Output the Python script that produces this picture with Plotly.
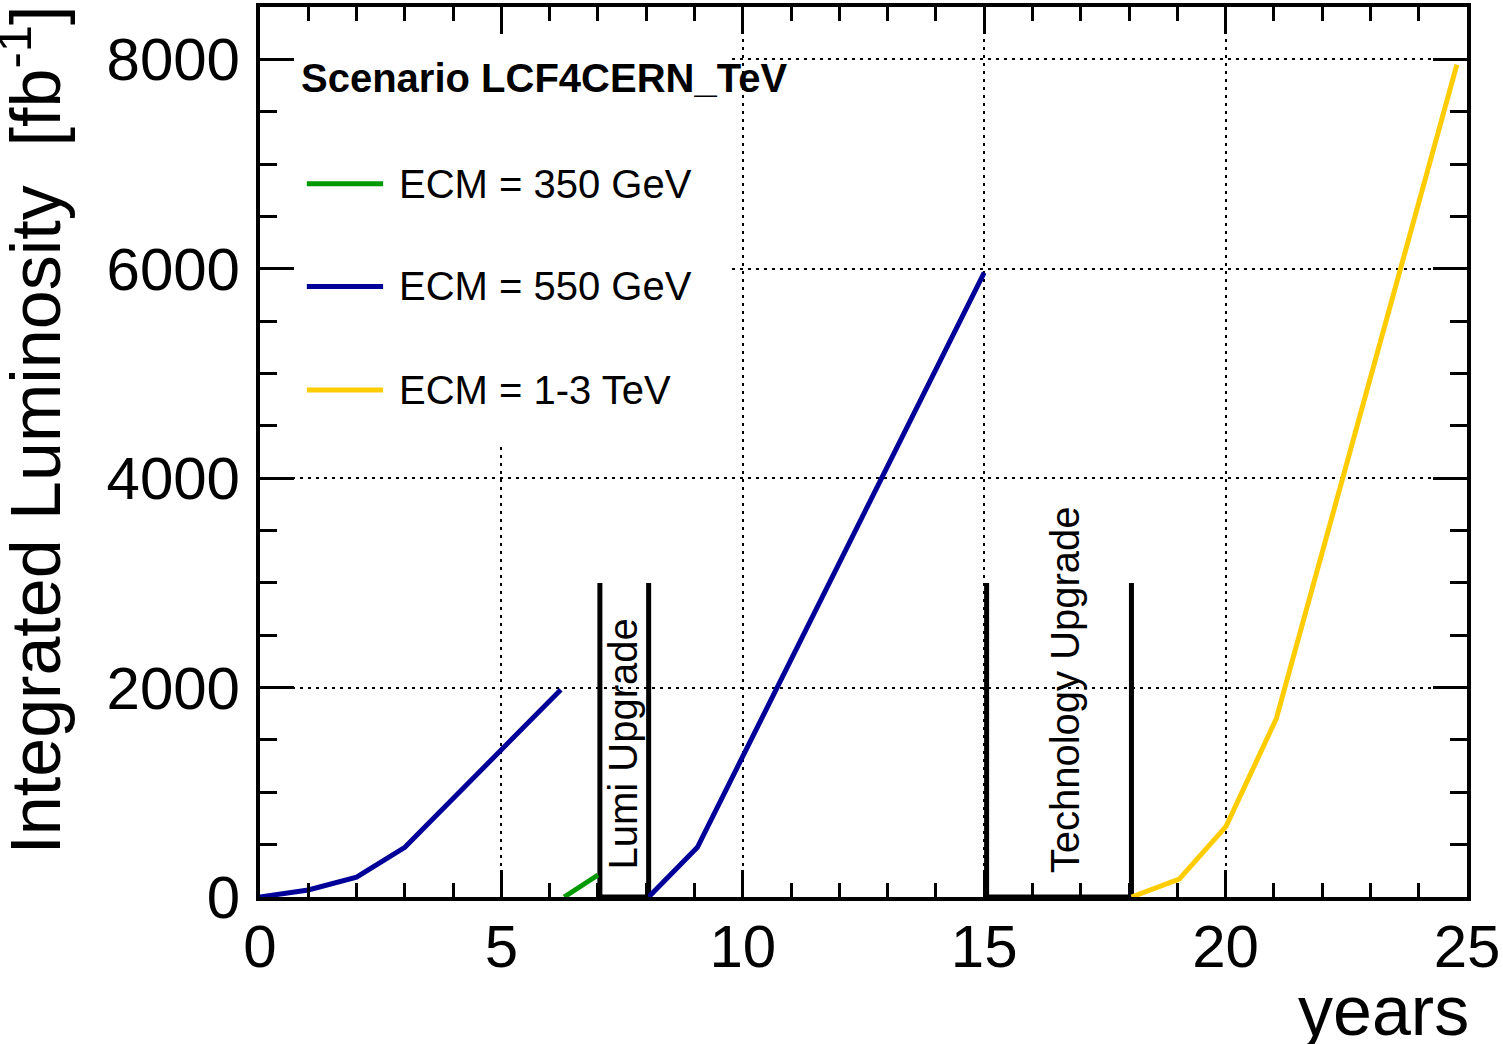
import plotly.graph_objects as go

# ---- data ----
years_550a = [0, 1, 2, 3, 6.23]
lumi_550a = [0, 67, 190, 475, 1980]

years_350 = [6.3, 7.0]
lumi_350 = [0, 210]

years_550b = [8.05, 9.06, 15.0]
lumi_550b = [0, 475, 5964]

years_tev = [18.05, 19.04, 20.01, 21.05, 24.79]
lumi_tev = [0, 171, 675, 1703, 7950]

upgrade_names = ["Lumi Upgrade", "Technology Upgrade"]
upgrade_start = [7.04, 15.05]
upgrade_end = [8.05, 18.05]
upgrade_height = 3000

legend_labels = ["ECM = 350 GeV", "ECM = 550 GeV", "ECM = 1-3 TeV"]
colors = ["#009900", "#000099", "#FFCC00"]
header = "<b>Scenario LCF4CERN_TeV</b>"

FONT = "Liberation Sans, Arial, Helvetica, sans-serif"

fig = go.Figure()

# upgrade boxes (open at top)
for s, e in zip(upgrade_start, upgrade_end):
    fig.add_trace(go.Scatter(x=[s, s, e, e], y=[upgrade_height, 0, 0, upgrade_height],
                             mode="lines", line=dict(color="black", width=5),
                             showlegend=False, hoverinfo="skip"))

fig.add_trace(go.Scatter(x=years_550a, y=lumi_550a, mode="lines",
                         line=dict(color=colors[1], width=5), showlegend=False))
fig.add_trace(go.Scatter(x=years_350, y=lumi_350, mode="lines",
                         line=dict(color=colors[0], width=5), showlegend=False))
fig.add_trace(go.Scatter(x=years_550b, y=lumi_550b, mode="lines",
                         line=dict(color=colors[1], width=5), showlegend=False))
fig.add_trace(go.Scatter(x=years_tev, y=lumi_tev, mode="lines",
                         line=dict(color=colors[2], width=5), showlegend=False))

# white mask behind legend region (hides grid lines)
fig.add_shape(type="rect", xref="x", yref="y", x0=0, x1=9.73, y0=4318, y1=8500,
              fillcolor="white", line=dict(width=0), layer="between")

# manual legend
fig.add_annotation(x=0.8, y=7820, xref="x", yref="y", text=header, showarrow=False,
                   xanchor="left", yanchor="middle", font=dict(family=FONT, size=40, color="black"))
key_y = [6811, 5831, 4842]
for lab, col, ky in zip(legend_labels, colors, key_y):
    fig.add_shape(type="line", xref="x", yref="y", x0=0.97, x1=2.55, y0=ky, y1=ky,
                  line=dict(color=col, width=5))
    fig.add_annotation(x=2.84, y=ky, xref="x", yref="y", text=lab, showarrow=False,
                       xanchor="left", yanchor="middle",
                       font=dict(family=FONT, size=40, color="black"))

# upgrade labels
label_x = [7.52, 16.68]
label_y = [240, 205]
for name, lx, ly in zip(upgrade_names, label_x, label_y):
    fig.add_annotation(x=lx, y=ly, xref="x", yref="y", text=name, showarrow=False,
                       textangle=-90, xanchor="center", yanchor="bottom",
                       font=dict(family=FONT, size=40, color="black"))

# axis titles
fig.add_annotation(x=-0.19, y=1.004, xref="paper", yref="paper",
                   text="Integrated Luminosity  [fb<sup>-1</sup>]", showarrow=False,
                   textangle=-90, xanchor="center", yanchor="top",
                   font=dict(family=FONT, size=70, color="black"))
fig.add_annotation(x=1.003, y=-0.128, xref="paper", yref="paper", text="years",
                   showarrow=False, xanchor="right", yanchor="middle",
                   font=dict(family=FONT, size=70, color="black"))

axis_common = dict(showline=True, linecolor="black", linewidth=4, mirror="ticks",
                   ticks="inside", tickcolor="black", tickwidth=3,
                   showgrid=True, gridcolor="black", gridwidth=2, griddash="3px,5px",
                   zeroline=False, tickfont=dict(family=FONT, size=60, color="black"))

fig.update_xaxes(range=[0, 25], dtick=5, tick0=0, ticklen=27, ticklabelstandoff=-6,
                 minor=dict(dtick=1, ticklen=14, ticks="inside", tickcolor="black",
                            tickwidth=3, showgrid=False),
                 **axis_common)
fig.update_yaxes(range=[0, 8500], dtick=2000, tick0=0, ticklen=34, ticklabelstandoff=4,
                 minor=dict(dtick=500, ticklen=17, ticks="inside", tickcolor="black",
                            tickwidth=3, showgrid=False),
                 **axis_common)

fig.update_layout(width=1503, height=1044, margin=dict(l=260, r=35, t=3, b=147),
                  paper_bgcolor="white", plot_bgcolor="white", showlegend=False,
                  font=dict(family=FONT, color="black"))

fig.write_html("out.html")
